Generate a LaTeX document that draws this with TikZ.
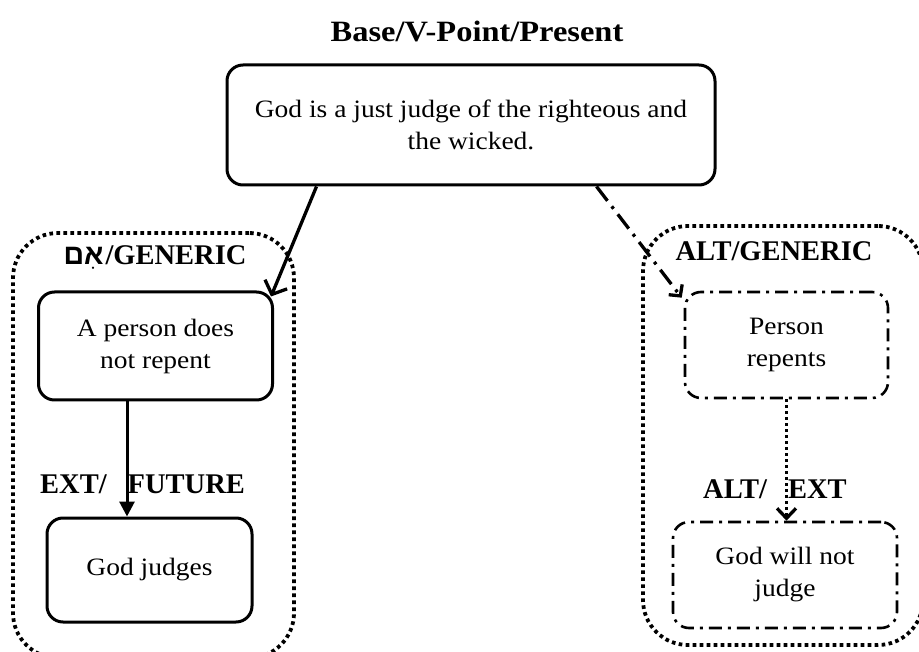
\documentclass[tikz,border=0pt]{standalone}
\usepackage{fontspec}
\setmainfont{Liberation Serif}[FakeStretch=1.1]
\newfontfamily\capsfont{Liberation Serif}
\newfontfamily\hebfont[Script=Hebrew]{Liberation Sans}
\TeXXeTstate=1
\usetikzlibrary{arrows.meta}
\begin{document}
\begin{tikzpicture}[x=1pt,y=-1pt,
  solidbox/.style={draw, line width=3pt, rounded corners=16pt, align=center,
    inner sep=0pt, font=\fontsize{25}{32}\selectfont},
  altbox/.style={solidbox, line width=2.6pt,
    dash pattern=on 13pt off 6pt on 3pt off 6pt},
  group/.style={draw, line width=3.8pt, dash pattern=on 3.6pt off 3.4pt,
    rounded corners=45pt, inner sep=0pt},
  lbl/.style={font=\capsfont\bfseries\fontsize{28.5}{30}\selectfont, inner sep=0pt},
  ttl/.style={font=\bfseries\fontsize{29.5}{32}\selectfont, inner sep=0pt},
  solidarrow/.style={line width=3.3pt, -{Straight Barb[length=11pt,width=24pt]}},
  filledarrow/.style={line width=3pt, -{Triangle[length=15pt,width=15pt]}},
  dasharrow/.style={line width=3.3pt, dash pattern=on 18pt off 7pt on 3pt off 7pt,
    -{Straight Barb[length=8pt,width=17pt]}},
  dotarrow/.style={line width=3.3pt, dash pattern=on 3pt off 3pt,
    -{Straight Barb[length=10pt,width=19pt]}}]
\useasboundingbox (0,0) rectangle (919,652);
\fill[white] (0,0) rectangle (919,652);

% title
\node[ttl, anchor=base] (title) at (477,42) {Base/V-Point/Present};

% base statement
\node[solidbox, minimum width=488pt, minimum height=120pt] (T) at (471,125)
  {God is a just judge of the righteous and\\the wicked.};

% dotted groups
\node[group, minimum width=281pt, minimum height=425pt] (GL) at (153.5,445.5) {};
\node[group, minimum width=280pt, minimum height=419pt] (GR) at (783,435.5) {};

% group labels
\node[lbl, anchor=base] (gl) at (155,265)
  {{\hebfont\bfseries\beginR אִם\endR}\kern2pt/GENERIC};
\node[lbl, anchor=base] (gr) at (774,261) {ALT/GENERIC};
\node[lbl, anchor=base west] (el) at (40,493) {EXT/\hspace{21pt}FUTURE};
\node[lbl, anchor=base west] (er) at (703,498) {ALT/\hspace{21pt}EXT};

% left branch
\node[solidbox, minimum width=234pt, minimum height=108pt] (A) at (155.5,346)
  {A person does\\not repent};
\node[solidbox, minimum width=205pt, minimum height=104pt] (J) at (149.5,570)
  {God judges};

% right branch
\node[altbox, minimum width=203pt, minimum height=106pt] (P) at (786.5,345)
  {Person\\repents};
\node[altbox, minimum width=224pt, minimum height=106pt] (W) at (785,575)
  {God will not\\judge};

% connectors
\coordinate (lx) at (127,0);
\draw[solidarrow] ([xshift=91pt]T.south west) -- ([xshift=-3pt,yshift=-6pt]A.north east);
\draw[filledarrow] (lx |- A.south) -- (lx |- J.north);
\draw[dasharrow] ([xshift=371pt]T.south west) -- ([xshift=-2pt,yshift=-7pt]P.north west);
\draw[dotarrow] (P.south) -- (P.south |- W.north);
\end{tikzpicture}
\end{document}
